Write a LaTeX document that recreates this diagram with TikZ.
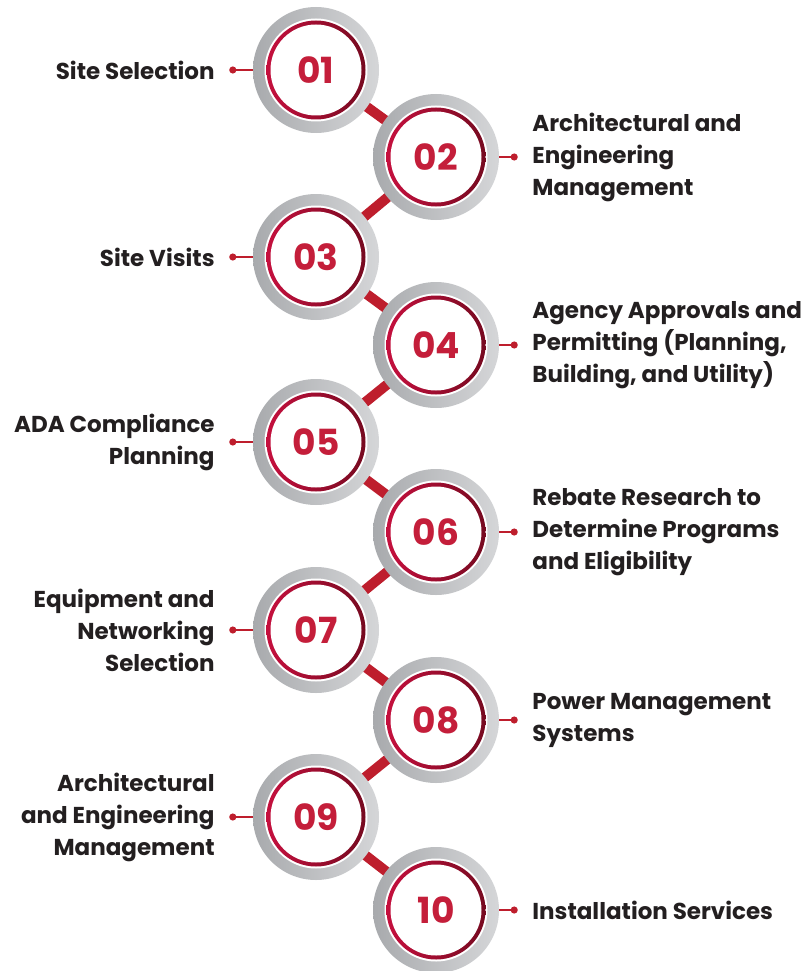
\documentclass[tikz,border=0pt]{standalone}
\usepackage{fontspec}
\setmainfont{Poppins}
\usepackage{xcolor}
\usepackage{tikz}
\usetikzlibrary{positioning,calc,arrows.meta}

\definecolor{numred}{HTML}{C41E3A}
\definecolor{barred}{HTML}{BE1E2D}
\definecolor{crimson}{HTML}{C5103E}
\definecolor{pinklight}{HTML}{E8A2A9}
\definecolor{maroon}{HTML}{760A20}
\definecolor{metaldark}{HTML}{A8AAAD}
\definecolor{metallight}{HTML}{C8CACC}
\definecolor{metalmid}{HTML}{D5D6D8}
\definecolor{ink}{HTML}{231F20}

\tikzset{
	ring/.style={circle,minimum size=126pt,inner sep=0pt},
	bar/.style={line width=10pt,barred},
	tick/.style={line width=2pt,barred,-{Circle[length=7pt]},shorten >=14.5pt},
	numtext/.style={font=\fontsize{36}{36}\selectfont\bfseries,text=numred,inner sep=0pt},
	steptext/.style={font=\fontsize{23}{32}\selectfont\bfseries,text=ink,inner sep=0pt},
}

\begin{document}
\begin{tikzpicture}[x=1pt,y=-1pt]
	\useasboundingbox (0,0) rectangle (809,971);
	% circle places
	\foreach \n/\x/\y in {1/316/70,2/436/157,3/316/257,4/436/345,5/316/442,6/436/532,7/316/630,8/436/720,9/316/817,10/436/910}
		\node[ring] (r\n) at (\x,\y) {};
	% red bars behind the circles
	\foreach \a/\b in {1/2,2/3,3/4,4/5,5/6,6/7,7/8,8/9,9/10}
		\draw[bar] (r\a.center) -- (r\b.center);
	% rings and numbers
	\foreach \n/\t in {1/01,2/02,3/03,4/04,5/05,6/06,7/07,8/08,9/09,10/10}{
		\shade[left color=metaldark,middle color=metallight,right color=metalmid] (r\n.center) circle (63pt);
		\fill[white] (r\n.center) circle (51.5pt);
		\shade[left color=crimson,middle color=pinklight,right color=maroon] (r\n.center) circle (49.5pt);
		\fill[white] (r\n.center) circle (45.5pt);
		\node[numtext] (n\n) at (r\n.center) {\t};
	}
	% left texts
	\node[steptext,align=right,left=38pt of r1] (t1) {Site Selection};
	\node[steptext,align=right,left=38pt of r3] (t3) {Site Visits};
	\node[steptext,align=right,left=38pt of r5] (t5) {ADA Compliance\\Planning};
	\node[steptext,align=right,left=38pt of r7] (t7) {Equipment and\\Networking\\Selection};
	\node[steptext,align=right,left=38pt of r9] (t9) {Architectural\\and Engineering\\Management};
	% right texts
	\node[steptext,align=left,right=33pt of r2] (t2) {Architectural and\\Engineering\\Management};
	\node[steptext,align=left,right=33pt of r4] (t4) {Agency Approvals and\\Permitting (Planning,\\Building, and Utility)};
	\node[steptext,align=left,right=33pt of r6] (t6) {Rebate Research to\\Determine Programs\\and Eligibility};
	\node[steptext,align=left,right=33pt of r8] (t8) {Power Management\\Systems};
	\node[steptext,align=left,right=33pt of r10] (t10) {Installation Services};
	% small connectors
	\foreach \n in {1,3,5,7,9}
		\draw[tick] (r\n.west) -- (t\n.east);
	\foreach \n in {2,4,6,8,10}
		\draw[tick] (r\n.east) -- (t\n.west);
\end{tikzpicture}
\end{document}
